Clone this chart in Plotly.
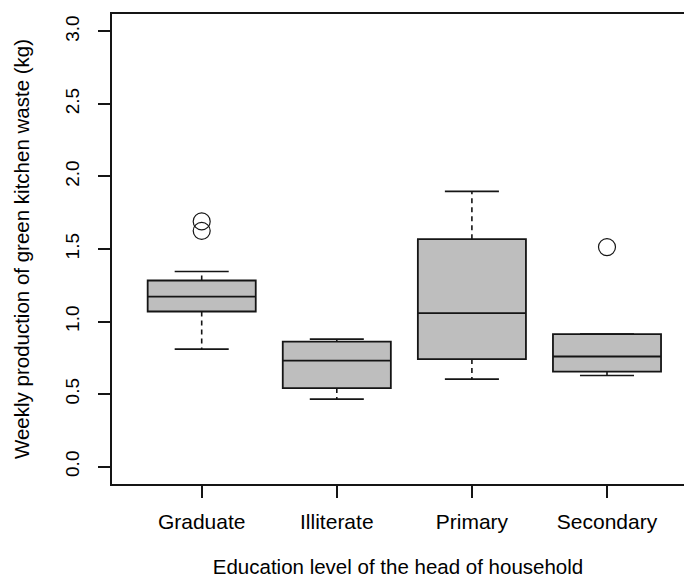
import plotly.graph_objects as go

categories = ["Graduate", "Illiterate", "Primary", "Secondary"]
lower_whisker = [0.810, 0.465, 0.603, 0.628]
q1_values = [1.069, 0.541, 0.741, 0.655]
median_values = [1.172, 0.731, 1.058, 0.759]
q3_values = [1.283, 0.862, 1.568, 0.913]
upper_whisker = [1.345, 0.879, 1.897, 0.913]
outlier_groups = [1, 1, 4]
outlier_values = [1.690, 1.625, 1.513]

positions = [1, 2, 3, 4]
BOX_W = 0.8
CAP_W = 0.4
LINE = "#151515"
FONT = "Liberation Sans, Arial, sans-serif"

fig = go.Figure()

# whiskers (dashed) and staples
wx, wy, cx, cy = [], [], [], []
for p, lo, a, b, hi in zip(positions, lower_whisker, q1_values, q3_values, upper_whisker):
    wx += [p, p, None, p, p, None]
    wy += [b, hi, None, a, lo, None]
    cx += [p - CAP_W / 2, p + CAP_W / 2, None, p - CAP_W / 2, p + CAP_W / 2, None]
    cy += [hi, hi, None, lo, lo, None]

fig.add_trace(go.Scatter(x=wx, y=wy, mode="lines", line=dict(color=LINE, width=1.6, dash="5px,4px"),
                         showlegend=False, hoverinfo="skip"))
fig.add_trace(go.Scatter(x=cx, y=cy, mode="lines", line=dict(color=LINE, width=1.6),
                         showlegend=False, hoverinfo="skip"))

fig.add_trace(go.Box(
    x=positions, q1=q1_values, median=median_values, q3=q3_values,
    lowerfence=q1_values, upperfence=q3_values, width=BOX_W,
    fillcolor="#BEBEBE", line=dict(color=LINE, width=1.8),
    showlegend=False, boxpoints=False,
))

fig.add_trace(go.Scatter(
    x=outlier_groups, y=outlier_values, mode="markers",
    marker=dict(symbol="circle-open", size=17, color=LINE, line=dict(width=1.2)),
    showlegend=False,
))

fig.update_layout(
    width=684, height=578,
    margin=dict(l=112, r=0, t=14, b=94, autoexpand=False),
    paper_bgcolor="white", plot_bgcolor="white",
    font=dict(family=FONT, color="black", size=17),
    xaxis=dict(range=[0.336, 4.57], tickvals=positions, ticktext=categories,
               ticks="outside", ticklen=12, tickwidth=1.5, tickcolor=LINE,
               showline=True, mirror=True, linecolor=LINE, linewidth=1.6,
               showgrid=False, zeroline=False, automargin=False,
               tickfont=dict(size=21), ticklabelstandoff=6,
               title=dict(text="Education level of the head of household",
                          font=dict(size=20.5), standoff=33)),
    yaxis=dict(range=[-0.12, 3.12], tickvals=[0, 0.5, 1, 1.5, 2, 2.5, 3],
               ticktext=["0.0", "0.5", "1.0", "1.5", "2.0", "2.5", "3.0"],
               tickangle=-90, ticks="outside", ticklen=12, tickwidth=1.5, tickcolor=LINE,
               showline=True, linecolor=LINE, linewidth=1.6, automargin=False,
               showgrid=False, zeroline=False, tickfont=dict(size=19), ticklabelstandoff=12,
               title=dict(text="Weekly production of green kitchen waste (kg)",
                          font=dict(size=20.5), standoff=26)),
)

fig.write_html("out.html", config={"displayModeBar": False},
               post_script="document.body.style.margin='0';")
